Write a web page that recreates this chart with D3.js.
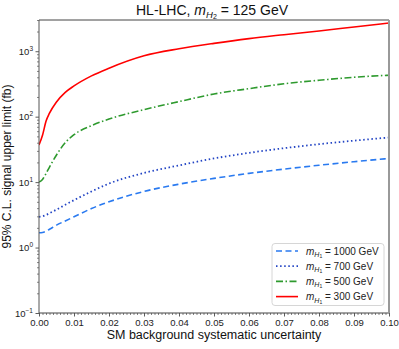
<!DOCTYPE html>
<html><head><meta charset="utf-8">
<script src="https://cdn.jsdelivr.net/npm/d3@7"></script>
<style>
body{margin:0;background:#fff;}
svg{font-family:"Liberation Sans",Arial,sans-serif;}
</style></head>
<body><svg id="c" width="399" height="349"></svg>
<script>
const xs = [0,0.001,0.002,0.003,0.005,0.0075,0.01,0.015,0.02,0.03,0.04,0.05,0.06,0.07,0.08,0.09,0.1];
const m300 = [37,52,85,113,168,235,295,420,550,850,1090,1320,1560,1790,2040,2350,2700];
const m500 = [10,11,13.5,17,26,40,53,73,92,128,170,222,268,318,360,400,430];
const m700 = [2.95,3.0,3.15,3.35,3.8,4.5,5.3,7.2,9.5,13.8,18,23,28,33,38,43,48];
const m1000 = [1.68,1.7,1.78,1.9,2.2,2.55,2.95,3.95,5.0,7.2,9.3,11.4,13.6,15.8,18.1,20.5,23];
const xTicks = [0,0.01,0.02,0.03,0.04,0.05,0.06,0.07,0.08,0.09,0.1];
const yTicks = [0.1,1,10,100,1000];
const yExp = ["\u22121","0","1","2","3"];
const series = [
  {mass:"1000", vals:m1000, color:"#2a7af0", dash:"6,3.5", w:1.6},
  {mass:"700", vals:m700, color:"#2244c4", dash:"1.5,2.6", w:1.8},
  {mass:"500", vals:m500, color:"#2e9a2e", dash:"7,2.5,1.5,2.5", w:1.6},
  {mass:"300", vals:m300, color:"#ff0000", dash:null, w:1.6}
];
const L=39,R=389,T=20,B=313;
const svg=d3.select("#c");
const x=d3.scaleLinear().domain([0,0.1]).range([L,R]);
const y=d3.scaleLog().domain([0.1,3000]).range([B,T]);

// minor x ticks
const xMinor=d3.range(0,101).map(i=>i/1000).filter(v=>Math.round(v*1000)%10!==0);
svg.append("g").attr("transform",`translate(0,${B})`)
  .call(d3.axisBottom(x).tickValues(xMinor).tickSize(2).tickFormat(""))
  .call(g=>g.select(".domain").remove())
  .call(g=>g.selectAll("line").attr("stroke","#333").attr("stroke-width",0.6));
const gx=svg.append("g").attr("transform",`translate(0,${B})`)
  .call(d3.axisBottom(x).tickValues(xTicks).tickSize(3.5).tickPadding(3).tickFormat(d3.format(".2f")));
gx.select(".domain").remove();
gx.selectAll("line").attr("stroke","#333").attr("stroke-width",0.8);
gx.selectAll("text").attr("font-size",9.5).attr("fill","#222").attr("font-family","Liberation Sans, Arial, sans-serif");

// minor y ticks
const yMinor=[];
for(let e=-1;e<=3;e++){for(let k=2;k<=9;k++){const v=k*Math.pow(10,e);if(v<=3000)yMinor.push(v);}}
svg.append("g").attr("transform",`translate(${L},0)`)
  .call(d3.axisLeft(y).tickValues(yMinor).tickSize(2).tickFormat(""))
  .call(g=>g.select(".domain").remove())
  .call(g=>g.selectAll("line").attr("stroke","#333").attr("stroke-width",0.6));
const gy=svg.append("g").attr("transform",`translate(${L},0)`)
  .call(d3.axisLeft(y).tickValues(yTicks).tickSize(3.5).tickFormat(""));
gy.select(".domain").remove();
gy.selectAll("line").attr("stroke","#333").attr("stroke-width",0.8);
yTicks.forEach((v,i)=>{
  const t=svg.append("text").attr("x",L-6).attr("y",y(v)+3.5).attr("text-anchor","end")
    .attr("font-size",9.5).attr("fill","#222");
  t.append("tspan").text("10");
  t.append("tspan").attr("dy",-4).attr("font-size",6.5).text(yExp[i]);
});

// lines
const line=d3.line().x((d,i)=>x(xs[i])).y(d=>y(d)).curve(d3.curveMonotoneX);
svg.append("clipPath").attr("id","pc").append("rect").attr("x",L).attr("y",T).attr("width",R-L).attr("height",B-T);
series.forEach(s=>{
  svg.append("path").attr("d",line(s.vals)).attr("fill","none").attr("stroke",s.color)
    .attr("stroke-width",s.w).attr("stroke-dasharray",s.dash).attr("clip-path","url(#pc)");
});

// frame
svg.append("line").attr("x1",L).attr("x2",R).attr("y1",T).attr("y2",T).attr("stroke","#444").attr("stroke-width",1);
svg.append("line").attr("x1",L).attr("x2",R).attr("y1",B).attr("y2",B).attr("stroke","#444").attr("stroke-width",1);
svg.append("line").attr("x1",L).attr("x2",L).attr("y1",T).attr("y2",B).attr("stroke","#555").attr("stroke-width",1);
svg.append("line").attr("x1",R).attr("x2",R).attr("y1",T).attr("y2",B).attr("stroke","#999").attr("stroke-width",2);

// legend
const lg=svg.append("g");
lg.append("rect").attr("x",272).attr("y",243.5).attr("width",112).attr("height",62).attr("rx",3)
  .attr("fill","#fff").attr("stroke","#ccc").attr("stroke-width",0.8);
series.forEach((s,i)=>{
  const yy=251+i*15.2;
  lg.append("line").attr("x1",276).attr("x2",298).attr("y1",yy).attr("y2",yy)
    .attr("stroke",s.color).attr("stroke-width",s.w).attr("stroke-dasharray",s.dash);
  const t=lg.append("text").attr("x",306).attr("y",yy+3.5).attr("font-size",10).attr("fill","#222");
  t.append("tspan").attr("font-style","italic").text("m");
  t.append("tspan").attr("font-style","italic").attr("font-size",7).attr("dy",2.5).text("H");
  t.append("tspan").attr("font-size",5).attr("dy",1).text("1");
  t.append("tspan").attr("dy",-3.5).text(" = "+s.mass+" GeV");
});

// title
const tt=svg.append("text").attr("x",212).attr("y",15).attr("text-anchor","middle").attr("font-size",14).attr("fill","#111");
tt.append("tspan").text("HL-LHC, ");
tt.append("tspan").attr("font-style","italic").text("m");
tt.append("tspan").attr("font-style","italic").attr("font-size",9.5).attr("dy",3).text("H");
tt.append("tspan").attr("font-size",7).attr("dy",1).text("2");
tt.append("tspan").attr("dy",-4).text(" = 125 GeV");

// axis labels
svg.append("text").attr("x",214).attr("y",339).attr("text-anchor","middle").attr("font-size",12.5).attr("fill","#111")
  .text("SM background systematic uncertainty");
svg.append("text").attr("transform",`translate(11,${(T+B)/2}) rotate(-90)`).attr("text-anchor","middle")
  .attr("font-size",12).attr("fill","#111").text("95% C.L. signal upper limit (fb)");
</script></body></html>
